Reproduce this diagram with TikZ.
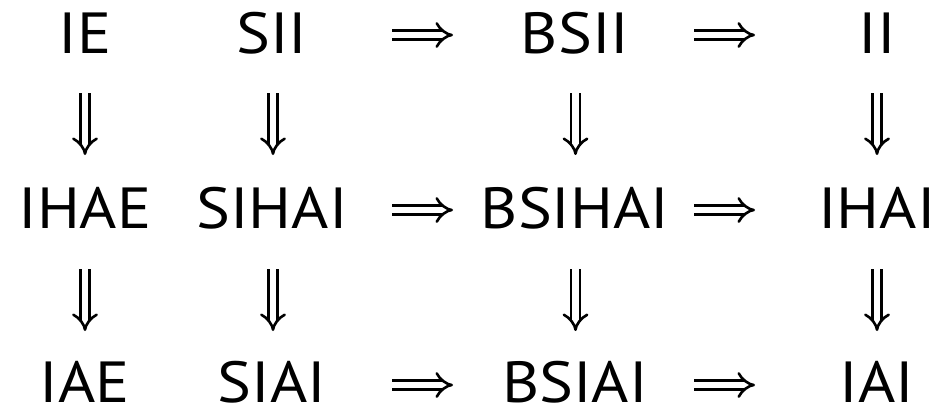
\documentclass[tikz,border=0pt]{standalone}
\usepackage{fontspec}
\setmainfont{PT Sans}[FakeStretch=1.1]
\usetikzlibrary{arrows.meta}
\begin{document}
\begin{tikzpicture}[x=1pt,y=-1pt,
  lbl/.style={inner sep=0pt, anchor=base, text depth=0pt, font=\fontsize{58}{60}\selectfont},
  imp/.style={double, double distance=6.2pt, line width=2.6pt, -{Implies}}]
\useasboundingbox (0,0) rectangle (942,407);
% row 1
\node[lbl] (ie)     at (85,53)   {IE};
\node[lbl] (sii)    at (272,53)  {SII};
\node[lbl] (bsii)   at (575,53)  {BSII};
\node[lbl] (ii)     at (877,53)  {II};
% row 2
\node[lbl] (ihae)   at (85,228)  {IHAE};
\node[lbl] (sihai)  at (272,228) {SIHAI};
\node[lbl] (bsihai) at (575,228) {BSIHAI};
\node[lbl] (ihai)   at (877,228) {IHAI};
% row 3
\node[lbl] (iae)    at (85,402)  {IAE};
\node[lbl] (siai)   at (272,402) {SIAI};
\node[lbl] (bsiai)  at (575,402) {BSIAI};
\node[lbl] (iai)    at (877,402) {IAI};
% horizontal arrow ends
\foreach \r/\y in {1/35,2/210,3/385}{
  \coordinate (a\r s) at (392,\y);
  \coordinate (a\r e) at (453,\y);
  \coordinate (b\r s) at (694,\y);
  \coordinate (b\r e) at (755,\y);
}
% vertical arrow ends
\foreach \c/\x in {1/85,2/273,3/575.5,4/877}{
  \coordinate (u\c s) at (\x,93);
  \coordinate (u\c e) at (\x,155);
  \coordinate (v\c s) at (\x,269);
  \coordinate (v\c e) at (\x,331);
}
\foreach \r in {1,2,3}{
  \draw[imp] (a\r s) -- (a\r e);
  \draw[imp] (b\r s) -- (b\r e);
}
\foreach \c in {1,2,3,4}{
  \draw[imp] (u\c s) -- (u\c e);
  \draw[imp] (v\c s) -- (v\c e);
}
\end{tikzpicture}
\end{document}
